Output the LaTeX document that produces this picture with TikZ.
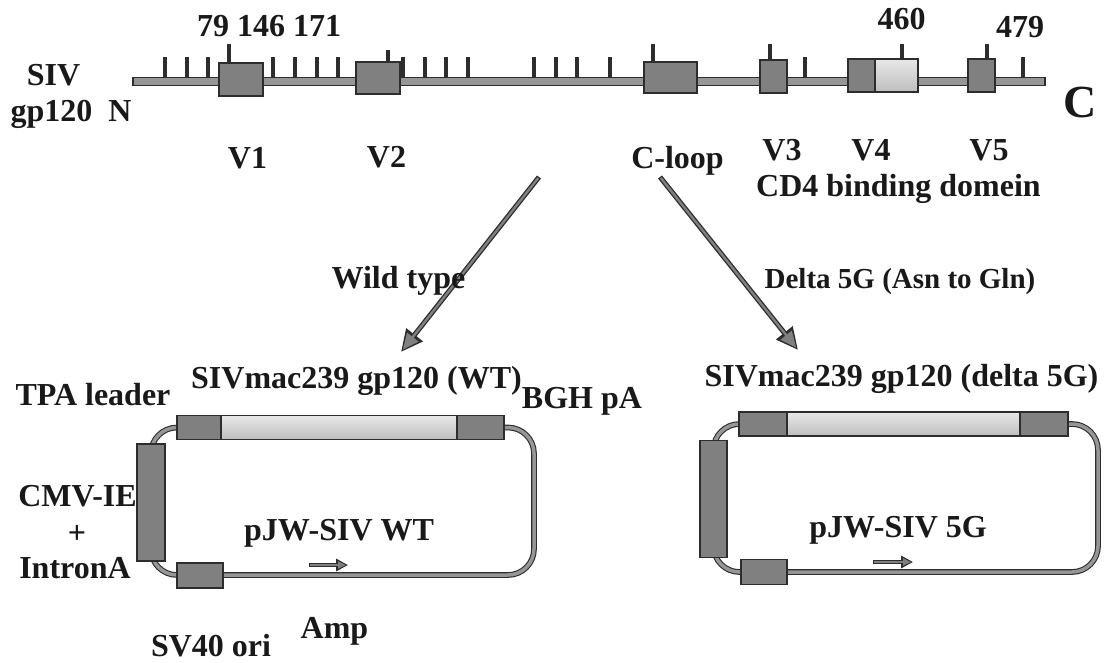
\documentclass[tikz,border=0pt]{standalone}
\usepackage{fontspec}
\setmainfont{Liberation Serif}
\usetikzlibrary{arrows.meta}
\definecolor{ol}{RGB}{45,45,45}
\definecolor{bx}{RGB}{128,128,128}
\definecolor{br}{RGB}{150,150,150}
\definecolor{lt}{RGB}{232,232,232}
\definecolor{ltd}{RGB}{190,190,190}
\definecolor{tx}{RGB}{25,25,25}
\begin{document}
\begin{tikzpicture}[x=1pt,y=-1pt,
  dbox/.style={draw=ol, fill=bx, line width=1.3pt, inner sep=0pt, outer sep=0pt},
  lbox/.style={draw=ol, top color=lt, bottom color=ltd, line width=1.3pt, inner sep=0pt, outer sep=0pt},
  tk/.style={draw=ol, line width=3.2pt},
  lbl/.style={font=\bfseries\fontsize{32}{38}\selectfont, inner sep=0pt, anchor=base, text=tx},
  dna/.style={draw=ol, line width=1.1pt, double=br, double distance=3.5pt},
  bigout/.style={draw=ol, line width=5pt, -{Triangle[length=22pt,width=20pt]}},
  bigin/.style={draw=bx, line width=2.4pt, shorten <=1.3pt, shorten >=3pt, -{Triangle[length=16pt,width=14pt]}},
  smout/.style={draw=ol, line width=4.5pt, -{Triangle[length=12pt,width=12pt]}},
  smin/.style={draw=bx, line width=2pt, shorten <=1.2pt, shorten >=2pt, -{Triangle[length=8pt,width=7pt]}}
]
\useasboundingbox (0,0) rectangle (1111,662);
\fill[white] (0,0) rectangle (1111,662);

% ---------- gp120 map ----------
\foreach \x in {165,187,208,273,295,317,338,403,425,446,468,534,556,577,610,805,1023}
  \draw[tk] (\x,81) -- (\x,57);
\foreach \x in {229,653,770,902,987}
  \draw[tk] (\x,70) -- (\x,44);
\draw[tk] (388,70) -- (388,50);
\node[draw=ol, fill=br, line width=1.1pt, minimum width=912, minimum height=8, inner sep=0pt] (bar) at (589,81.5) {};
\node[dbox, minimum width=44, minimum height=33] (v1box) at (241,79.5) {};
\node[dbox, minimum width=44, minimum height=32] (v2box) at (378,78) {};
\node[dbox, minimum width=53, minimum height=31] (cbox) at (670.5,77.5) {};
\node[dbox, minimum width=27, minimum height=33] (v3box) at (773.5,76.5) {};
\node[dbox, minimum width=27, minimum height=33] (v4a) at (861.5,75.5) {};
\node[lbox, minimum width=43, minimum height=33] (v4b) at (896.5,75.5) {};
\node[dbox, minimum width=27, minimum height=33] (v5box) at (981.5,75.5) {};

\node[lbl] (n79) at (269,36) {79 146 171};
\node[lbl] (n460) at (901.5,29) {460};
\node[lbl] (n479) at (1020,37) {479};
\node[lbl] (siv) at (53.5,85) {SIV};
\node[lbl] (gp) at (71,121) {gp120\hspace{0.5em}N};
\node[lbl, font=\bfseries\fontsize{46}{50}\selectfont] (cterm) at (1080.5,117) {C};
\node[lbl] (lv1) at (247.5,168) {V1};
\node[lbl] (lv2) at (386.5,167) {V2};
\node[lbl] (lcl) at (677.5,168) {C-loop};
\node[lbl] (lv3) at (782,160) {V3};
\node[lbl] (lv4) at (871,160) {V4};
\node[lbl] (lv5) at (989,160) {V5};
\node[lbl] (cd4) at (898.5,196) {CD4 binding domein};

% ---------- arrows ----------
\coordinate (wa) at (539,177);
\coordinate (wb) at (401,352);
\coordinate (da) at (660,177);
\coordinate (db) at (798,350);
\draw[bigout] (wa) -- (wb);
\draw[bigin] (wa) -- (wb);
\draw[bigout] (da) -- (db);
\draw[bigin] (da) -- (db);
\node[lbl] (wt) at (398.5,288) {Wild type};
\node[lbl, font=\bfseries\fontsize{29}{34}\selectfont] (d5) at (900,288) {Delta 5G (Asn to Gln)};

% ---------- left plasmid ----------
\coordinate (lrt) at (534,427.5);
\coordinate (lrb) at (534,575);
\coordinate (llt) at (151,427.5);
\coordinate (llb) at (151,575);
\draw[dna, rounded corners=26] (llt) -- (lrt) -- (lrb) -- (llb) -- cycle;
\node[dbox, minimum width=44, minimum height=24] (tpa) at (199,427.5) {};
\node[lbox, minimum width=236, minimum height=24] (gene) at (339,427.5) {};
\node[dbox, minimum width=47, minimum height=24] (bgh) at (480.5,427.5) {};
\node[dbox, minimum width=28, minimum height=117] (cmv) at (151,502.5) {};
\node[dbox, minimum width=46, minimum height=25] (sv40) at (200,575.5) {};
\coordinate (amp1) at (309,565);
\coordinate (amp2) at (348,565);
\draw[smout] (amp1) -- (amp2);
\draw[smin] (amp1) -- (amp2);

\node[lbl] (tgene) at (356.5,388) {SIVmac239 gp120 (WT)};
\node[lbl] (ttpa) at (93,405) {TPA leader};
\node[lbl] (tbgh) at (582,408) {BGH pA};
\node[lbl] (tcmv) at (77.5,506) {CMV-IE};
\node[lbl, anchor=center] (tplus) at (77,534) {+};
\node[lbl] (tint) at (75,578) {IntronA};
\node[lbl] (tpwt) at (339,540) {pJW-SIV WT};
\node[lbl] (tamp) at (334.5,638) {Amp};
\node[lbl] (tsv) at (211,656) {SV40 ori};

% ---------- right plasmid ----------
\coordinate (rrt) at (1098,424);
\coordinate (rrb) at (1098,572);
\coordinate (rlt) at (713.5,424);
\coordinate (rlb) at (713.5,572);
\draw[dna, rounded corners=26] (rlt) -- (rrt) -- (rrb) -- (rlb) -- cycle;
\node[dbox, minimum width=48, minimum height=24] (tpa2) at (763,424) {};
\node[lbox, minimum width=233, minimum height=24] (gene2) at (903.5,424) {};
\node[dbox, minimum width=48, minimum height=24] (bgh2) at (1044,424) {};
\node[dbox, minimum width=27, minimum height=117] (cmv2) at (713.5,499) {};
\node[dbox, minimum width=46, minimum height=25] (sv402) at (764,572) {};
\coordinate (amp3) at (873,562);
\coordinate (amp4) at (913,562);
\draw[smout] (amp3) -- (amp4);
\draw[smin] (amp3) -- (amp4);

\node[lbl] (tgene2) at (901.5,386) {SIVmac239 gp120 (delta 5G)};
\node[lbl] (tp5g) at (898,537) {pJW-SIV 5G};
\end{tikzpicture}
\end{document}
